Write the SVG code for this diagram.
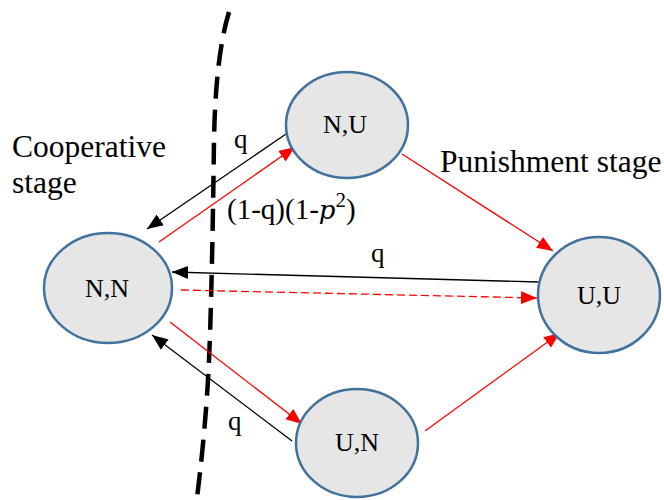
<svg xmlns="http://www.w3.org/2000/svg" width="664" height="500" viewBox="0 0 664 500">
<defs>
<marker id="ab" markerUnits="userSpaceOnUse" markerWidth="18" markerHeight="14" refX="16" refY="6.5" orient="auto">
<path d="M0,0 L16,6.5 L0,13 z" fill="#000"/>
</marker>
<marker id="ar" markerUnits="userSpaceOnUse" markerWidth="18" markerHeight="14" refX="16" refY="6.5" orient="auto">
<path d="M0,0 L16,6.5 L0,13 z" fill="#FF0000"/>
</marker>
</defs>
<style>
.node ellipse{fill:#E6E6E6;stroke:#41719C;stroke-width:2.5}
text{font-family:"Liberation Serif","Times New Roman",serif;fill:#000}
.nl{font-size:26px;text-anchor:middle}
.lbl{font-size:31.5px}
.q{font-size:27px}
.blk{stroke:#000;stroke-width:1.3;fill:none;marker-end:url(#ab)}
.red{stroke:#FF0000;stroke-width:1.3;fill:none;marker-end:url(#ar)}
</style>
<rect width="664" height="500" fill="#fff"/>
<path d="M229,12 C219,45 215,90 214,140 C213,220 211,330 208,380 C205,430 201,465 197,498" fill="none" stroke="#000" stroke-width="4.5" stroke-dasharray="22 11"/>
<g id="connectors">
<line class="blk" x1="286" y1="134" x2="147" y2="229"/>
<line class="red" x1="159" y1="242" x2="295" y2="147"/>
<line class="blk" x1="538" y1="282" x2="172" y2="272"/>
<line class="red" x1="181" y1="290" x2="537" y2="298" stroke-dasharray="8 4"/>
<line class="red" x1="402" y1="154" x2="553" y2="251"/>
<line class="red" x1="425" y1="431" x2="560" y2="333"/>
<line class="red" x1="170" y1="322" x2="302" y2="424"/>
<line class="blk" x1="292" y1="441" x2="152" y2="335"/>
</g>
<g id="node-NU" class="node"><ellipse cx="347" cy="125" rx="61" ry="53"/><text class="nl" x="345" y="133">N,U</text></g>
<g id="node-NN" class="node"><ellipse cx="108" cy="288" rx="64" ry="55"/><text class="nl" x="107" y="297">N,N</text></g>
<g id="node-UN" class="node"><ellipse cx="357" cy="443" rx="61" ry="54"/><text class="nl" x="357" y="451">U,N</text></g>
<g id="node-UU" class="node"><ellipse cx="599" cy="295" rx="61" ry="58"/><text class="nl" x="599" y="304">U,U</text></g>
<g id="labels">
<text class="lbl" x="12" y="157">Cooperative</text>
<text class="lbl" x="12" y="193">stage</text>
<text class="lbl" x="440" y="172">Punishment stage</text>
<text class="q" x="234" y="148">q</text>
<text class="q" x="371" y="262">q</text>
<text class="q" x="228" y="430">q</text>
<text x="227" y="219" style="font-size:29px">(1-q)(1-<tspan style="font-style:italic;font-family:'DejaVu Serif',serif;font-size:26px">p</tspan><tspan style="font-size:21px" dy="-12">2</tspan><tspan dy="12">)</tspan></text>
</g>
</svg>
